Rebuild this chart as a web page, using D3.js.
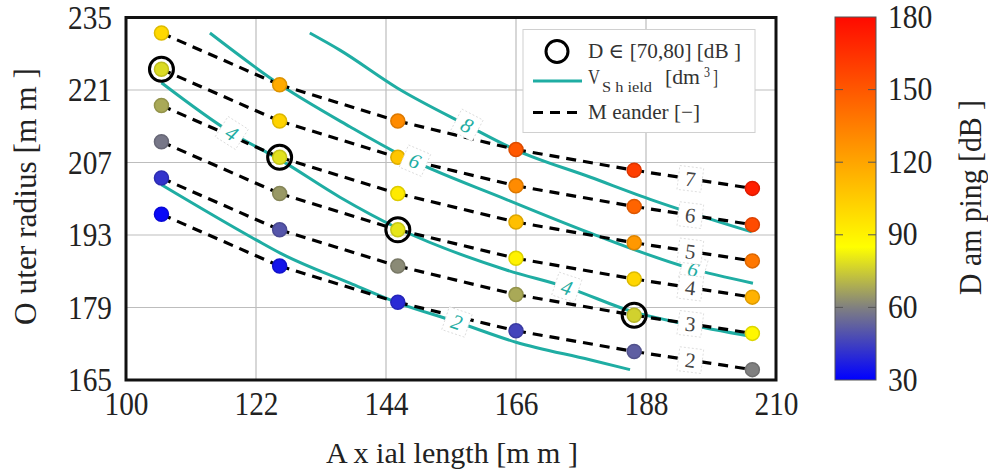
<!DOCTYPE html>
<html>
<head>
<meta charset="utf-8">
<script src="https://cdn.jsdelivr.net/npm/d3@7"></script>
<style>
  body { margin: 0; background: #fff; }
  svg { display: block; }
  text { font-family: 'Liberation Serif', 'DejaVu Serif', serif; }
</style>
</head>
<body>
<div id="chart"></div>
<script>
// axial length of the designs [mm]
const axialLength = [106, 126, 146, 166, 186, 206];
// meander count, one dashed line per meander
const meanders = [7, 6, 5, 4, 3, 2];
// outer radius [mm] per meander (rows) and axial length (cols)
const outerRadius = [
  [232, 222, 215, 209.5, 205.5, 202],
  [225, 215, 208, 202.5, 198.5, 195],
  [218, 208, 201, 195.5, 191.5, 188],
  [211, 201, 194, 188.5, 184.5, 181],
  [204, 194, 187, 181.5, 177.5, 174],
  [197, 187, 180, 174.5, 170.5, 167]
];
// damping [dB]
const damping = [
  [100, 118, 130, 150, 160, 172],
  [78, 102, 107, 130, 145, 155],
  [68, 79, 93, 110, 125, 138],
  [58, 65, 80, 90, 101, 115],
  [42, 50, 62, 68, 76, 88],
  [32, 35, 40, 46, 52, 60]
];
// shield volume iso-lines [dm^3]
const shieldLevels = [2, 4, 6, 8];
const shieldLines = [
  [[106, 202.7], [122.1, 192], [126.1, 189.5], [137.9, 183.7], [146, 179.9], [156, 176.2], [166, 172.3], [178.5, 168.9], [185.3, 167]],
  [[106, 222.4], [117.9, 212.7], [126.1, 207.5], [136.2, 200.3], [146, 194.3], [164.5, 186.2], [174.6, 182.9], [186, 178.1], [194.3, 175.9], [205.9, 173.4]],
  [[114.2, 232], [126.1, 222], [137.9, 213.9], [145.9, 208.8], [164.5, 199.8], [178.5, 193.4], [195.4, 186.6], [206.1, 183.7]],
  [[131.1, 232], [136.2, 228.7], [145.9, 221.4], [157.7, 214.2], [166, 209.4], [178.5, 204.2], [189.2, 199.7], [205.9, 193.6]]
];
const shieldLabelAt = [[156], [117.9, 174.6], [148.9, 196], [157.7]];
const meanderLabelAt = 195.5;

const xTicks = [100, 122, 144, 166, 188, 210];
const yTicks = [165, 179, 193, 207, 221, 235];
const cTicks = [30, 60, 90, 120, 150, 180];

const teal = '#1fada3';
const width = 988, height = 471;

const svg = d3.select('#chart').append('svg')
  .attr('width', width)
  .attr('height', height);

const x = d3.scaleLinear().domain([100, 210]).range([126, 776]);
const y = d3.scaleLinear().domain([165, 235]).range([380, 17.5]);

const color = d3.scaleLinear()
  .domain([30, 60, 85, 120, 180])
  .range(['#0000ff', '#808080', '#ffff00', '#ffa500', '#ff0a00']);

// grid
const grid = svg.append('g').attr('class', 'grid')
  .attr('stroke', '#bdbdbd').attr('stroke-width', 1.2);
grid.selectAll('line.v').data(xTicks.slice(1, -1)).join('line')
  .attr('x1', d => x(d)).attr('x2', d => x(d))
  .attr('y1', y(165)).attr('y2', y(235));
grid.selectAll('line.h').data(yTicks.slice(1, -1)).join('line')
  .attr('y1', d => y(d)).attr('y2', d => y(d))
  .attr('x1', x(100)).attr('x2', x(210));

// axes
const tickFont = 33;
const xAxis = svg.append('g')
  .attr('transform', `translate(0,${y(165)})`)
  .call(d3.axisBottom(x).tickValues(xTicks).tickSize(0).tickPadding(12));
const yAxis = svg.append('g')
  .attr('transform', `translate(${x(100)},0)`)
  .call(d3.axisLeft(y).tickValues(yTicks).tickSize(0).tickPadding(14));
[xAxis, yAxis].forEach(a => {
  a.select('.domain').remove();
  a.selectAll('text')
    .attr('font-family', 'Liberation Serif')
    .attr('font-size', tickFont)
    .attr('fill', '#222')
    .attr('textLength', 44)
    .attr('lengthAdjust', 'spacingAndGlyphs');
});

svg.append('text')
  .attr('x', 452).attr('y', 463)
  .attr('text-anchor', 'middle')
  .attr('font-size', 30).attr('fill', '#222')
  .attr('textLength', 252).attr('lengthAdjust', 'spacingAndGlyphs')
  .text('A x ial length  [m m  ]');

svg.append('text')
  .attr('transform', 'translate(36,196.5) rotate(-90)')
  .attr('text-anchor', 'middle')
  .attr('font-size', 32).attr('fill', '#222')
  .attr('textLength', 257).attr('lengthAdjust', 'spacingAndGlyphs')
  .text('O uter  radius  [m m  ]');

// shield volume lines
const line = d3.line()
  .x(d => x(d[0])).y(d => y(d[1]))
  .curve(d3.curveMonotoneX);

svg.append('g').selectAll('path').data(shieldLines).join('path')
  .attr('d', line)
  .attr('fill', 'none')
  .attr('stroke', teal)
  .attr('stroke-width', 3);

// meander lines, each segment restarts its dash pattern
const segs = [];
outerRadius.forEach((row, i) => {
  for (let j = 0; j < row.length - 1; j++) {
    segs.push({ x1: axialLength[j], y1: row[j], x2: axialLength[j + 1], y2: row[j + 1] });
  }
});
svg.append('g').selectAll('line').data(segs).join('line')
  .attr('x1', d => x(d.x1)).attr('y1', d => y(d.y1))
  .attr('x2', d => x(d.x2)).attr('y2', d => y(d.y2))
  .attr('stroke', '#000')
  .attr('stroke-width', 3.2)
  .attr('stroke-dasharray', '10,7');

// points
const pts = [];
outerRadius.forEach((row, i) => row.forEach((r, j) => {
  pts.push({ a: axialLength[j], r: r, d: damping[i][j] });
}));
svg.append('g').selectAll('circle').data(pts).join('circle')
  .attr('cx', d => x(d.a)).attr('cy', d => y(d.r))
  .attr('r', 7)
  .attr('fill', d => color(d.d))
  .attr('stroke', d => d3.color(color(d.d)).darker(0.4))
  .attr('stroke-width', 1.5);

// designs with damping between 70 and 80 dB
svg.append('g').selectAll('circle').data(pts.filter(d => d.d >= 70 && d.d <= 80)).join('circle')
  .attr('cx', d => x(d.a)).attr('cy', d => y(d.r))
  .attr('r', 12)
  .attr('fill', 'none')
  .attr('stroke', '#000')
  .attr('stroke-width', 3);

// helpers for inline labels
function interp(points, xv) {
  for (let k = 0; k < points.length - 1; k++) {
    const p = points[k], q = points[k + 1];
    if (xv >= p[0] && xv <= q[0]) {
      const t = (xv - p[0]) / (q[0] - p[0]);
      return p[1] + t * (q[1] - p[1]);
    }
  }
  return points[points.length - 1][1];
}
function angleAt(points, xv) {
  const a = xv - 2, b = xv + 2;
  const dx = x(b) - x(a);
  const dy = y(interp(points, b)) - y(interp(points, a));
  return Math.atan2(dy, dx) * 180 / Math.PI;
}
function addLabel(g, px, py, ang, txt, fill, italic) {
  const lb = g.append('g').attr('transform', `translate(${px},${py}) rotate(${ang})`);
  lb.append('rect')
    .attr('x', -12).attr('y', -12).attr('width', 24).attr('height', 24)
    .attr('fill', '#fff')
    .attr('stroke', '#d8d8d8').attr('stroke-width', 0.8)
    .attr('stroke-dasharray', '2,2');
  lb.append('text')
    .attr('text-anchor', 'middle').attr('dy', '0.35em')
    .attr('font-size', 21)
    .attr('font-style', italic ? 'italic' : 'normal')
    .attr('fill', fill)
    .text(txt);
}

const labels = svg.append('g');
shieldLines.forEach((pl, i) => {
  shieldLabelAt[i].forEach(xv => {
    addLabel(labels, x(xv), y(interp(pl, xv)), angleAt(pl, xv), shieldLevels[i], teal, true);
  });
});
outerRadius.forEach((row, i) => {
  const pl = row.map((r, j) => [axialLength[j], r]);
  addLabel(labels, x(meanderLabelAt), y(interp(pl, meanderLabelAt)), angleAt(pl, meanderLabelAt) * 0.8, meanders[i], '#444', false);
});

// frame
svg.append('rect')
  .attr('x', x(100)).attr('y', y(235))
  .attr('width', x(210) - x(100)).attr('height', y(165) - y(235))
  .attr('fill', 'none')
  .attr('stroke', '#111')
  .attr('stroke-width', 3);

// legend
const lg = svg.append('g');
lg.append('rect')
  .attr('x', 523).attr('y', 29.5).attr('width', 232).attr('height', 103)
  .attr('fill', '#fff').attr('stroke', '#d0d0d0').attr('stroke-width', 1);
lg.append('circle')
  .attr('cx', 557).attr('cy', 51.5).attr('r', 11)
  .attr('fill', 'none').attr('stroke', '#000').attr('stroke-width', 3);
lg.append('line')
  .attr('x1', 533).attr('x2', 582).attr('y1', 81).attr('y2', 81)
  .attr('stroke', teal).attr('stroke-width', 3);
lg.append('line')
  .attr('x1', 533).attr('x2', 582).attr('y1', 112.5).attr('y2', 112.5)
  .attr('stroke', '#000').attr('stroke-width', 3.2).attr('stroke-dasharray', '10,7');
const lgText = (tx, ty, size, len, s) => lg.append('text')
  .attr('x', tx).attr('y', ty)
  .attr('font-size', size).attr('fill', '#333')
  .attr('textLength', len).attr('lengthAdjust', 'spacingAndGlyphs')
  .text(s);
lgText(588, 58, 21, 153, 'D  ∈  [70,80] [dB ]');
lgText(588, 84, 21, 12, 'V');
lgText(602, 92, 15, 50, 'S h ield');
lgText(665, 84, 21, 35, '[dm');
lgText(704, 77, 14, 6, '3');
lgText(713, 84, 21, 5, ']');
lgText(588, 119, 21, 112, 'M  eander  [−]');

// colorbar
const cb = { x: 835, w: 41 };
const cy = d3.scaleLinear().domain([30, 180]).range([380, 17]);
const grad = svg.append('defs').append('linearGradient')
  .attr('id', 'damp').attr('x1', 0).attr('x2', 0).attr('y1', 1).attr('y2', 0);
grad.selectAll('stop').data(color.domain()).join('stop')
  .attr('offset', d => (d - 30) / 150)
  .attr('stop-color', d => color(d));
svg.append('rect')
  .attr('x', cb.x).attr('y', cy(180)).attr('width', cb.w).attr('height', cy(30) - cy(180))
  .attr('fill', 'url(#damp)')
  .attr('stroke', '#555').attr('stroke-width', 1);
const ct = svg.append('g');
cTicks.slice(1, -1).forEach(v => {
  ct.append('line').attr('x1', cb.x).attr('x2', cb.x + 8).attr('y1', cy(v)).attr('y2', cy(v))
    .attr('stroke', '#555').attr('stroke-width', 1);
  ct.append('line').attr('x1', cb.x + cb.w - 8).attr('x2', cb.x + cb.w).attr('y1', cy(v)).attr('y2', cy(v))
    .attr('stroke', '#555').attr('stroke-width', 1);
});
ct.selectAll('text').data(cTicks).join('text')
  .attr('x', 888).attr('y', d => cy(d)).attr('dy', '0.32em')
  .attr('font-size', tickFont).attr('fill', '#222')
  .attr('textLength', d => String(d).length * 14.8)
  .attr('lengthAdjust', 'spacingAndGlyphs')
  .text(d => d);

svg.append('text')
  .attr('transform', 'translate(981,197.5) rotate(-90)')
  .attr('text-anchor', 'middle')
  .attr('font-size', 32).attr('fill', '#222')
  .attr('textLength', 195).attr('lengthAdjust', 'spacingAndGlyphs')
  .text('D am ping  [dB ]');
</script>
</body>
</html>
